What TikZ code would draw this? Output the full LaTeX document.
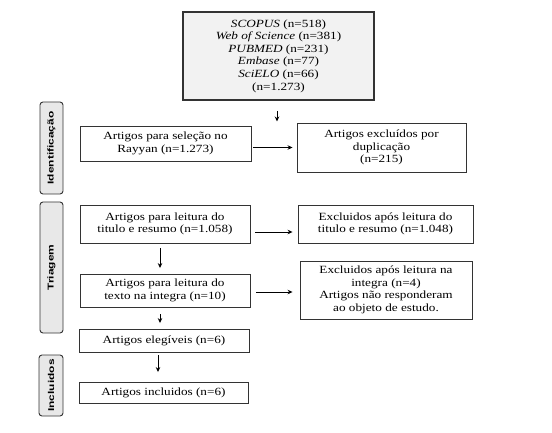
\documentclass[tikz,border=0pt]{standalone}
\usepackage{fontspec}
\setmainfont{Liberation Serif}[FakeStretch=1.2]
\newfontfamily\labfont{Liberation Sans}[FakeStretch=1.4]
\usetikzlibrary{arrows.meta}
\definecolor{boxgray}{HTML}{F2F2F2}
\definecolor{labgray}{HTML}{E8E8E8}
\definecolor{edge}{HTML}{333333}
\begin{document}
\begin{tikzpicture}[x=1pt,y=-1pt,
  flowbox/.style={draw=edge,line width=0.9pt,rectangle,align=center,inner sep=1pt,
    font=\fontsize{11}{12.6}\selectfont},
  dbbox/.style={flowbox,fill=boxgray,line width=1.1pt},
  phase/.style={draw=edge,line width=0.9pt,fill=labgray,rounded corners=3pt,rotate=90,
    inner sep=1pt,font=\labfont\bfseries\fontsize{8.5}{10}\selectfont},
  arr/.style={line width=1pt,-{Stealth[length=5pt,width=4.5pt]}}]
\useasboundingbox (0,0) rectangle (552,433);
\fill[white] (0,0) rectangle (552,433);

\node[dbbox,minimum width=191pt,minimum height=88pt] (db) at (278.5,56)
  {\textit{SCOPUS} (n=518)\\\textit{Web of Science} (n=381)\\\textit{PUBMED} (n=231)\\\textit{Embase} (n=77)\\\textit{SciELO} (n=66)\\(n=1.273)};

\node[flowbox,minimum width=171pt,minimum height=35pt] (rayyan) at (165.5,143.5)
  {Artigos para seleção no\\Rayyan (n=1.273)};
\node[flowbox,minimum width=169pt,minimum height=49pt] (dup) at (381.5,147.5)
  {Artigos excluídos por\\duplicação\\(n=215)};
\node[flowbox,minimum width=170pt,minimum height=38pt] (titulo) at (165,224)
  {Artigos para leitura do\\titulo e resumo (n=1.058)};
\node[flowbox,minimum width=175pt,minimum height=38pt] (exc1) at (385.5,224)
  {Excluidos após leitura do\\titulo e resumo (n=1.048)};
\node[flowbox,minimum width=170pt,minimum height=33pt] (integra) at (165,290.5)
  {Artigos para leitura do\\texto na integra (n=10)};
\node[flowbox,minimum width=172pt,minimum height=58pt] (exc2) at (386,290)
  {Excluidos após leitura na\\integra (n=4)\\Artigos não responderam\\ao objeto de estudo.};
\node[flowbox,minimum width=170pt,minimum height=23pt] (eleg) at (164,340.5)
  {Artigos elegíveis (n=6)};
\node[flowbox,minimum width=169pt,minimum height=21pt] (incl) at (163.5,392.5)
  {Artigos incluidos (n=6)};

\node[phase,minimum width=92pt,minimum height=23pt] (pid) at (51.5,148) {Identificação};
\node[phase,minimum width=131pt,minimum height=23pt] (ptri) at (51.5,267.5) {Triagem};
\node[phase,minimum width=61pt,minimum height=24pt] (pinc) at (51,385.5) {Incluidos};

\coordinate (a0) at (277,111);
\coordinate (a1) at (277,121.5);
\draw[arr] (a0) -- (a1);
\draw[arr] ([xshift=2pt]rayyan.east |- dup.west) -- ([xshift=-4pt]dup.west);
\draw[arr] ([xshift=5pt,yshift=-8pt]titulo.east) -- ([xshift=-5pt,yshift=-8pt]exc1.west);
\draw[arr] ([xshift=6pt,yshift=-1.5pt]integra.east) -- ([xshift=-7pt,yshift=-1.5pt]integra.east -| exc2.west);
\draw[arr] ([xshift=-5pt,yshift=-5pt]titulo.south) -- ([xshift=-5pt,yshift=5.5pt]integra.north);
\draw[arr] ([xshift=-5pt,yshift=-7pt]integra.south) -- ([xshift=-5pt,yshift=5.5pt]eleg.north -| integra.south);
\draw[arr] ([xshift=-6pt,yshift=-3pt]eleg.south) -- ([xshift=-6pt,yshift=9.5pt]incl.north -| eleg.south);
\end{tikzpicture}
\end{document}
